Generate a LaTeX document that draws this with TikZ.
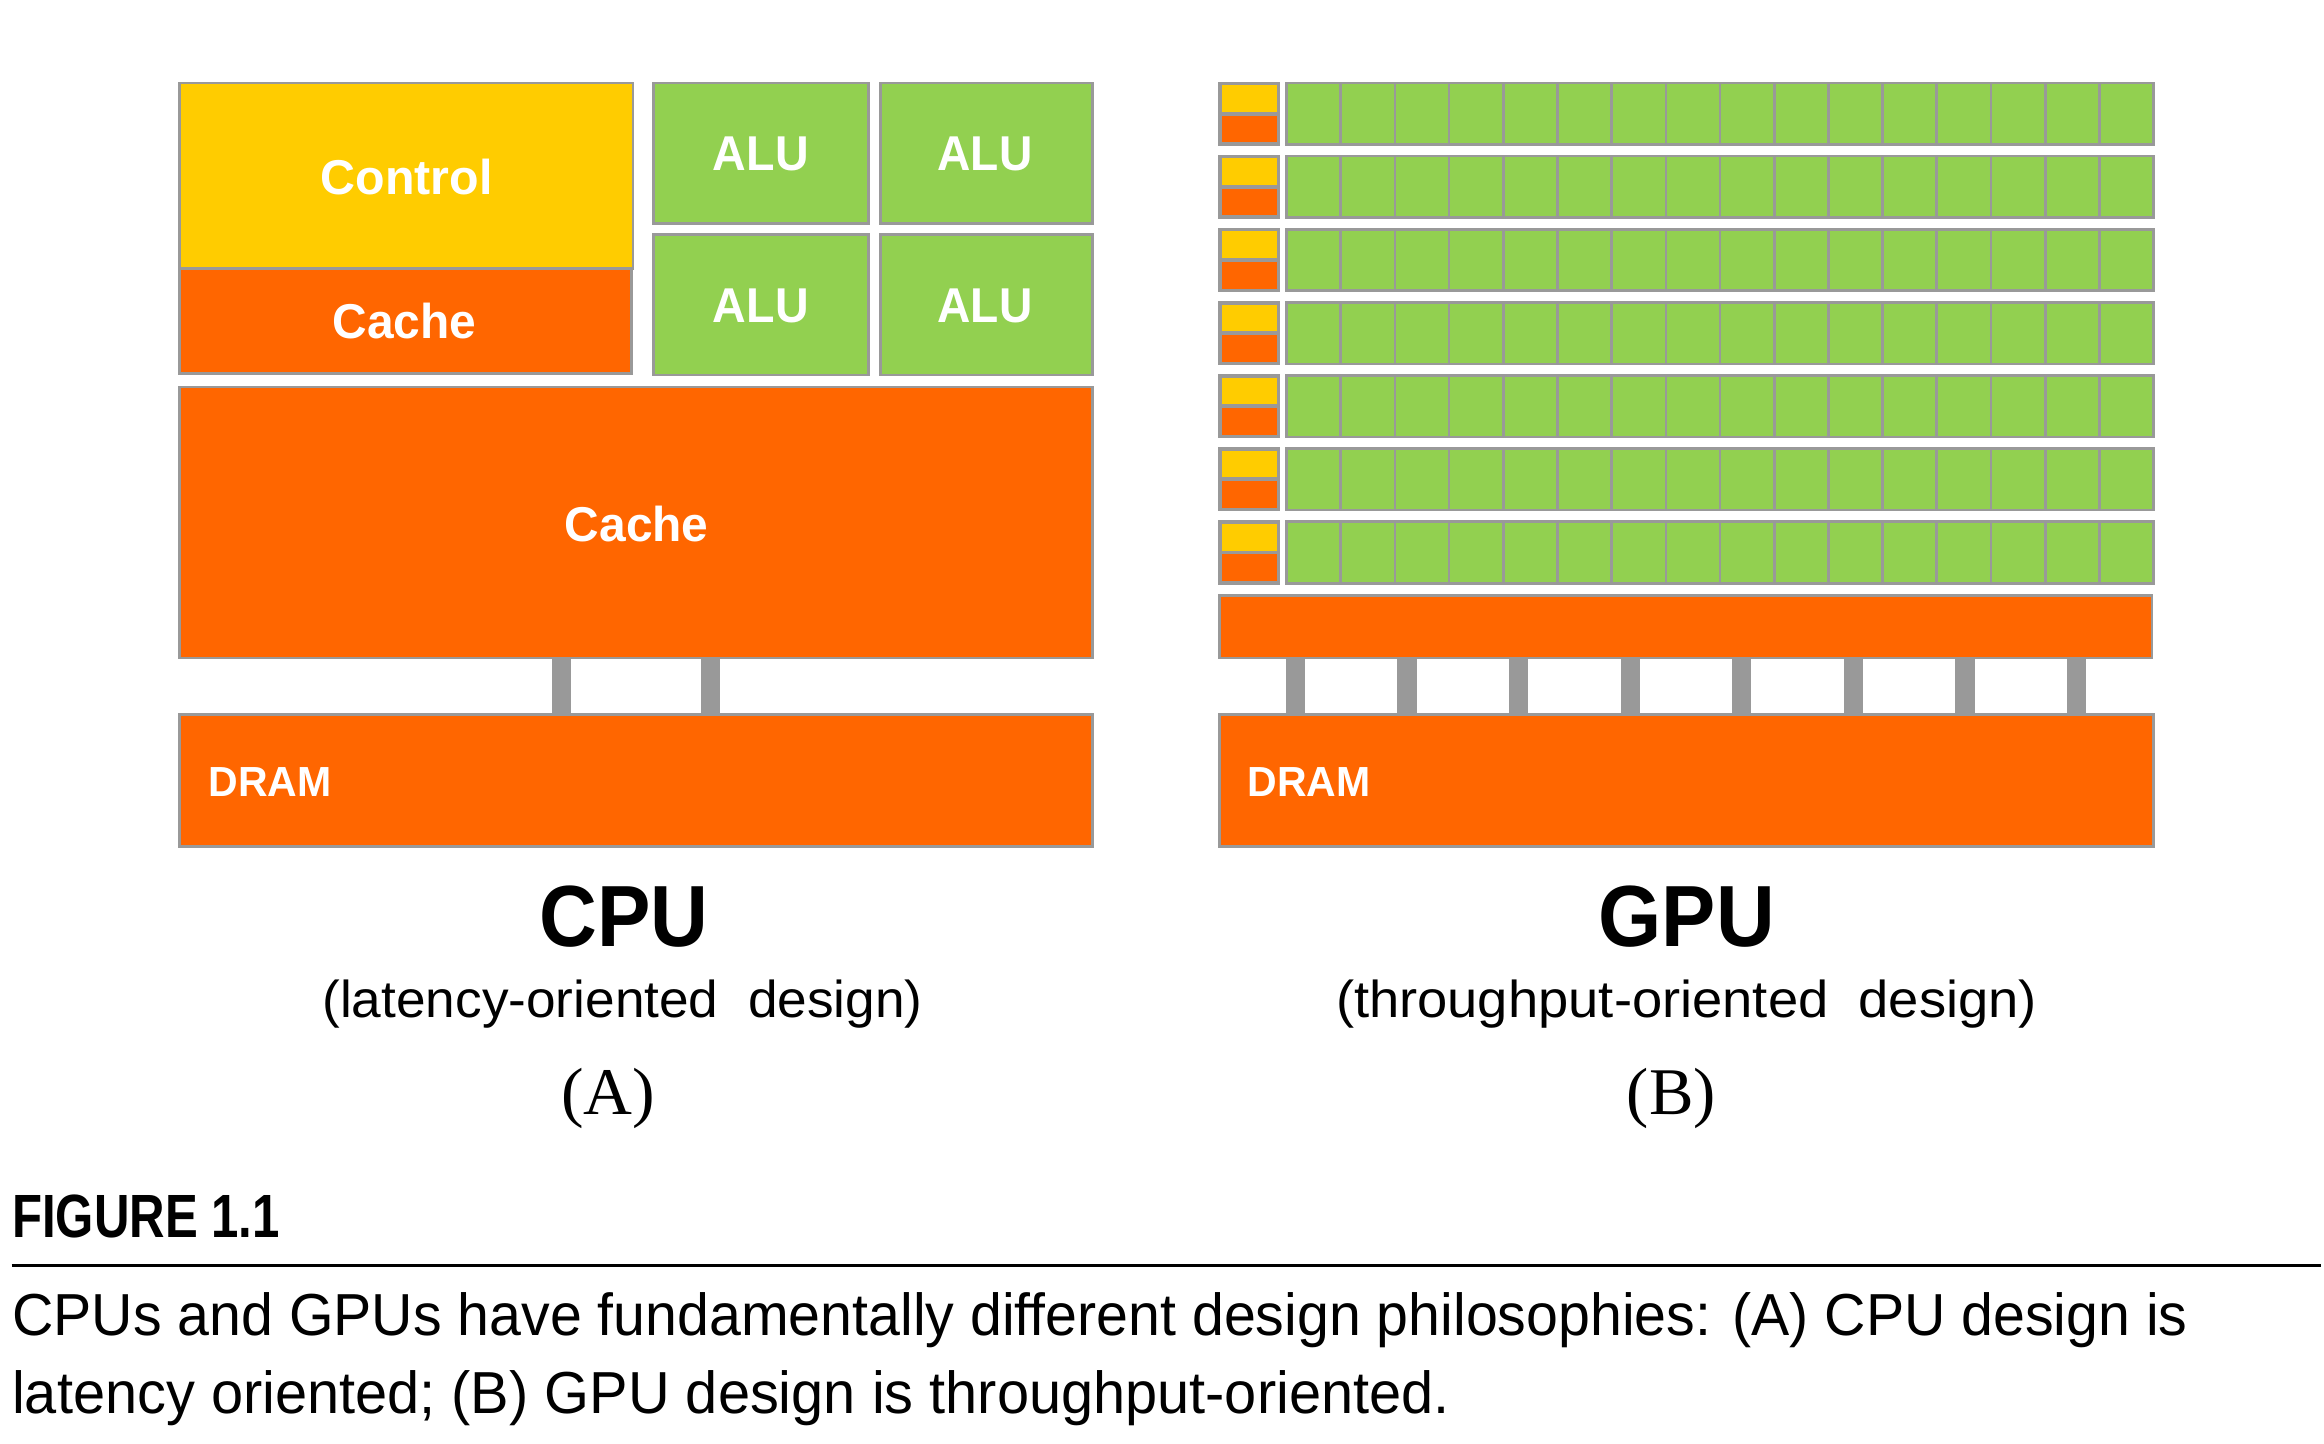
\documentclass[tikz,border=0pt]{standalone}
\usepackage{fontspec}
\usepackage{graphicx}
\setmainfont{Liberation Sans}
\newfontfamily\serifA{Liberation Serif}
\definecolor{ctrlyellow}{HTML}{FFCC00}
\definecolor{cacheorange}{HTML}{FF6600}
\definecolor{alugreen}{HTML}{92D050}
\definecolor{bordergray}{HTML}{999999}
\newcommand{\fitw}[2]{\resizebox{#1}{\height}{#2}}
\begin{document}
\begin{tikzpicture}[x=0.5pt,y=-0.5pt,
  blk/.style={draw=bordergray, line width=0.9pt, inner sep=0pt, outer sep=0pt, anchor=north west},
  fillonly/.style={inner sep=0pt, outer sep=0pt, anchor=north west},
  boxtxt/.style={text=white, font=\fontsize{16.5}{18}\selectfont\bfseries, inner sep=0pt, anchor=base},
  dramtxt/.style={text=white, font=\fontsize{14.2}{16}\selectfont\bfseries, inner sep=0pt, anchor=base west},
  bigtitle/.style={font=\fontsize{29.3}{32}\selectfont\bfseries, inner sep=0pt, anchor=base},
  subtitle/.style={font=\fontsize{17.5}{20}\selectfont, inner sep=0pt, anchor=base},
  sublabel/.style={font=\serifA\fontsize{22.5}{24}\selectfont, inner sep=0pt, anchor=base},
  figlabel/.style={font=\fontsize{20.6}{22}\selectfont\bfseries, inner sep=0pt, anchor=base west},
  captxt/.style={font=\fontsize{20}{22}\selectfont, inner sep=0pt, anchor=base west},
  pillar/.style={draw=bordergray, line width=6.5pt},
  rule/.style={draw=black, line width=1.1pt}]
\useasboundingbox[fill=white] (0,0) rectangle (1568,974);

% ---------------- CPU ----------------
\node[blk, fill=ctrlyellow, minimum width=153pt, minimum height=62.5pt] (control) at (121,56) {};
\node[blk, fill=cacheorange, minimum width=152.5pt, minimum height=35.5pt] (cache1) at (121,181) {};
\node[blk, fill=alugreen, minimum width=72.5pt, minimum height=47.5pt] (alu11) at (441,56) {};
\node[blk, fill=alugreen, minimum width=71.5pt, minimum height=47.5pt] (alu12) at (594,56) {};
\node[blk, fill=alugreen, minimum width=72.5pt, minimum height=47.5pt] (alu21) at (441,158) {};
\node[blk, fill=alugreen, minimum width=71.5pt, minimum height=47.5pt] (alu22) at (594,158) {};
\node[blk, fill=cacheorange, minimum width=308pt, minimum height=91.5pt] (cache2) at (121,261) {};
\node[blk, fill=cacheorange, minimum width=308pt, minimum height=44.5pt] (dram) at (121,482) {};

\path ([xshift=-25pt]cache2.south) coordinate (cp1);
\path ([xshift=25.25pt]cache2.south) coordinate (cp2);
\draw[pillar] (cp1) -- (cp1 |- dram.north);
\draw[pillar] (cp2) -- (cp2 |- dram.north);

\node[boxtxt] (controltxt) at (274.4,131) {\fitw{58pt}{Control}};
\node[boxtxt] (cache1txt) at (273,228.3) {\fitw{48.5pt}{Cache}};
\node[boxtxt] (alu11txt) at (513.3,115.2) {\fitw{32.3pt}{ALU}};
\node[boxtxt] (alu12txt) at (664.6,115.2) {\fitw{32pt}{ALU}};
\node[boxtxt] (alu21txt) at (513.3,217.5) {\fitw{32.3pt}{ALU}};
\node[boxtxt] (alu22txt) at (664.6,217.5) {\fitw{32pt}{ALU}};
\node[boxtxt] (cache2txt) at (429.6,365.5) {\fitw{48.5pt}{Cache}};
\node[dramtxt] (dramtxt) at (140.4,537.6) {\fitw{41.5pt}{DRAM}};

% ---------------- GPU ----------------
\foreach \r in {0,...,6}{
  \pgfmathsetmacro\yt{56+49.33*\r}
  \node[blk, fill=bordergray, minimum width=20pt, minimum height=20.75pt] (sm\r) at (823,\yt) {};
  \node[fillonly, fill=ctrlyellow, minimum width=18.5pt, minimum height=9pt] (smy\r) at (824.5,\yt+1.5) {};
  \node[fillonly, fill=cacheorange, minimum width=18.5pt, minimum height=9pt] (smo\r) at (824.5,\yt+22) {};
  \foreach \c in {0,...,15}{
    \node[blk, fill=alugreen, minimum width=18.28125pt, minimum height=20.75pt] (g\r-\c) at ({868+36.5625*\c},\yt) {};
  }
}
\node[blk, fill=cacheorange, minimum width=314.5pt, minimum height=21pt] (gcache) at (823,402) {};
\node[blk, fill=cacheorange, minimum width=315pt, minimum height=44.5pt] (gdram) at (823,482) {};
\foreach \k in {0,...,7}{
  \path ([xshift={-131.75pt+37.65pt*\k}]gcache.south) coordinate (gp\k);
  \draw[pillar] (gp\k) -- (gp\k |- gdram.north);
}
\node[dramtxt] (gdramtxt) at (841.3,537.6) {\fitw{41.5pt}{DRAM}};

% ---------------- titles ----------------
\node[bigtitle] (cputitle) at (421,638.5) {\fitw{57pt}{CPU}};
\node[subtitle] (cpusub) at (420,686.5) {\fitw{202.5pt}{(latency-oriented~~design)}};
\node[sublabel] (lblA) at (410.3,752) {\fitw{31.7pt}{(A)}};
\node[bigtitle] (gputitle) at (1138,638.5) {\fitw{59.4pt}{GPU}};
\node[subtitle] (gpusub) at (1137.9,686.5) {\fitw{236.5pt}{(throughput-oriented~~design)}};
\node[sublabel] (lblB) at (1127.6,752) {\fitw{30pt}{(B)}};

% ---------------- caption ----------------
\node[figlabel] (figlbl) at (7.8,834.7) {\fitw{90.3pt}{FIGURE 1.1}};
\coordinate (rl) at (7.8,854);
\coordinate (rr) at (1566,854);
\draw[rule] (rl) -- (rr);
\node[captxt] (cap1) at (7.8,900.8) {\fitw{734pt}{CPUs and GPUs have fundamentally different design philosophies: (A) CPU design is}};
\node[captxt] (cap2) at (7.8,953.7) {\fitw{485pt}{latency oriented; (B) GPU design is throughput-oriented.}};
\end{tikzpicture}
\end{document}
